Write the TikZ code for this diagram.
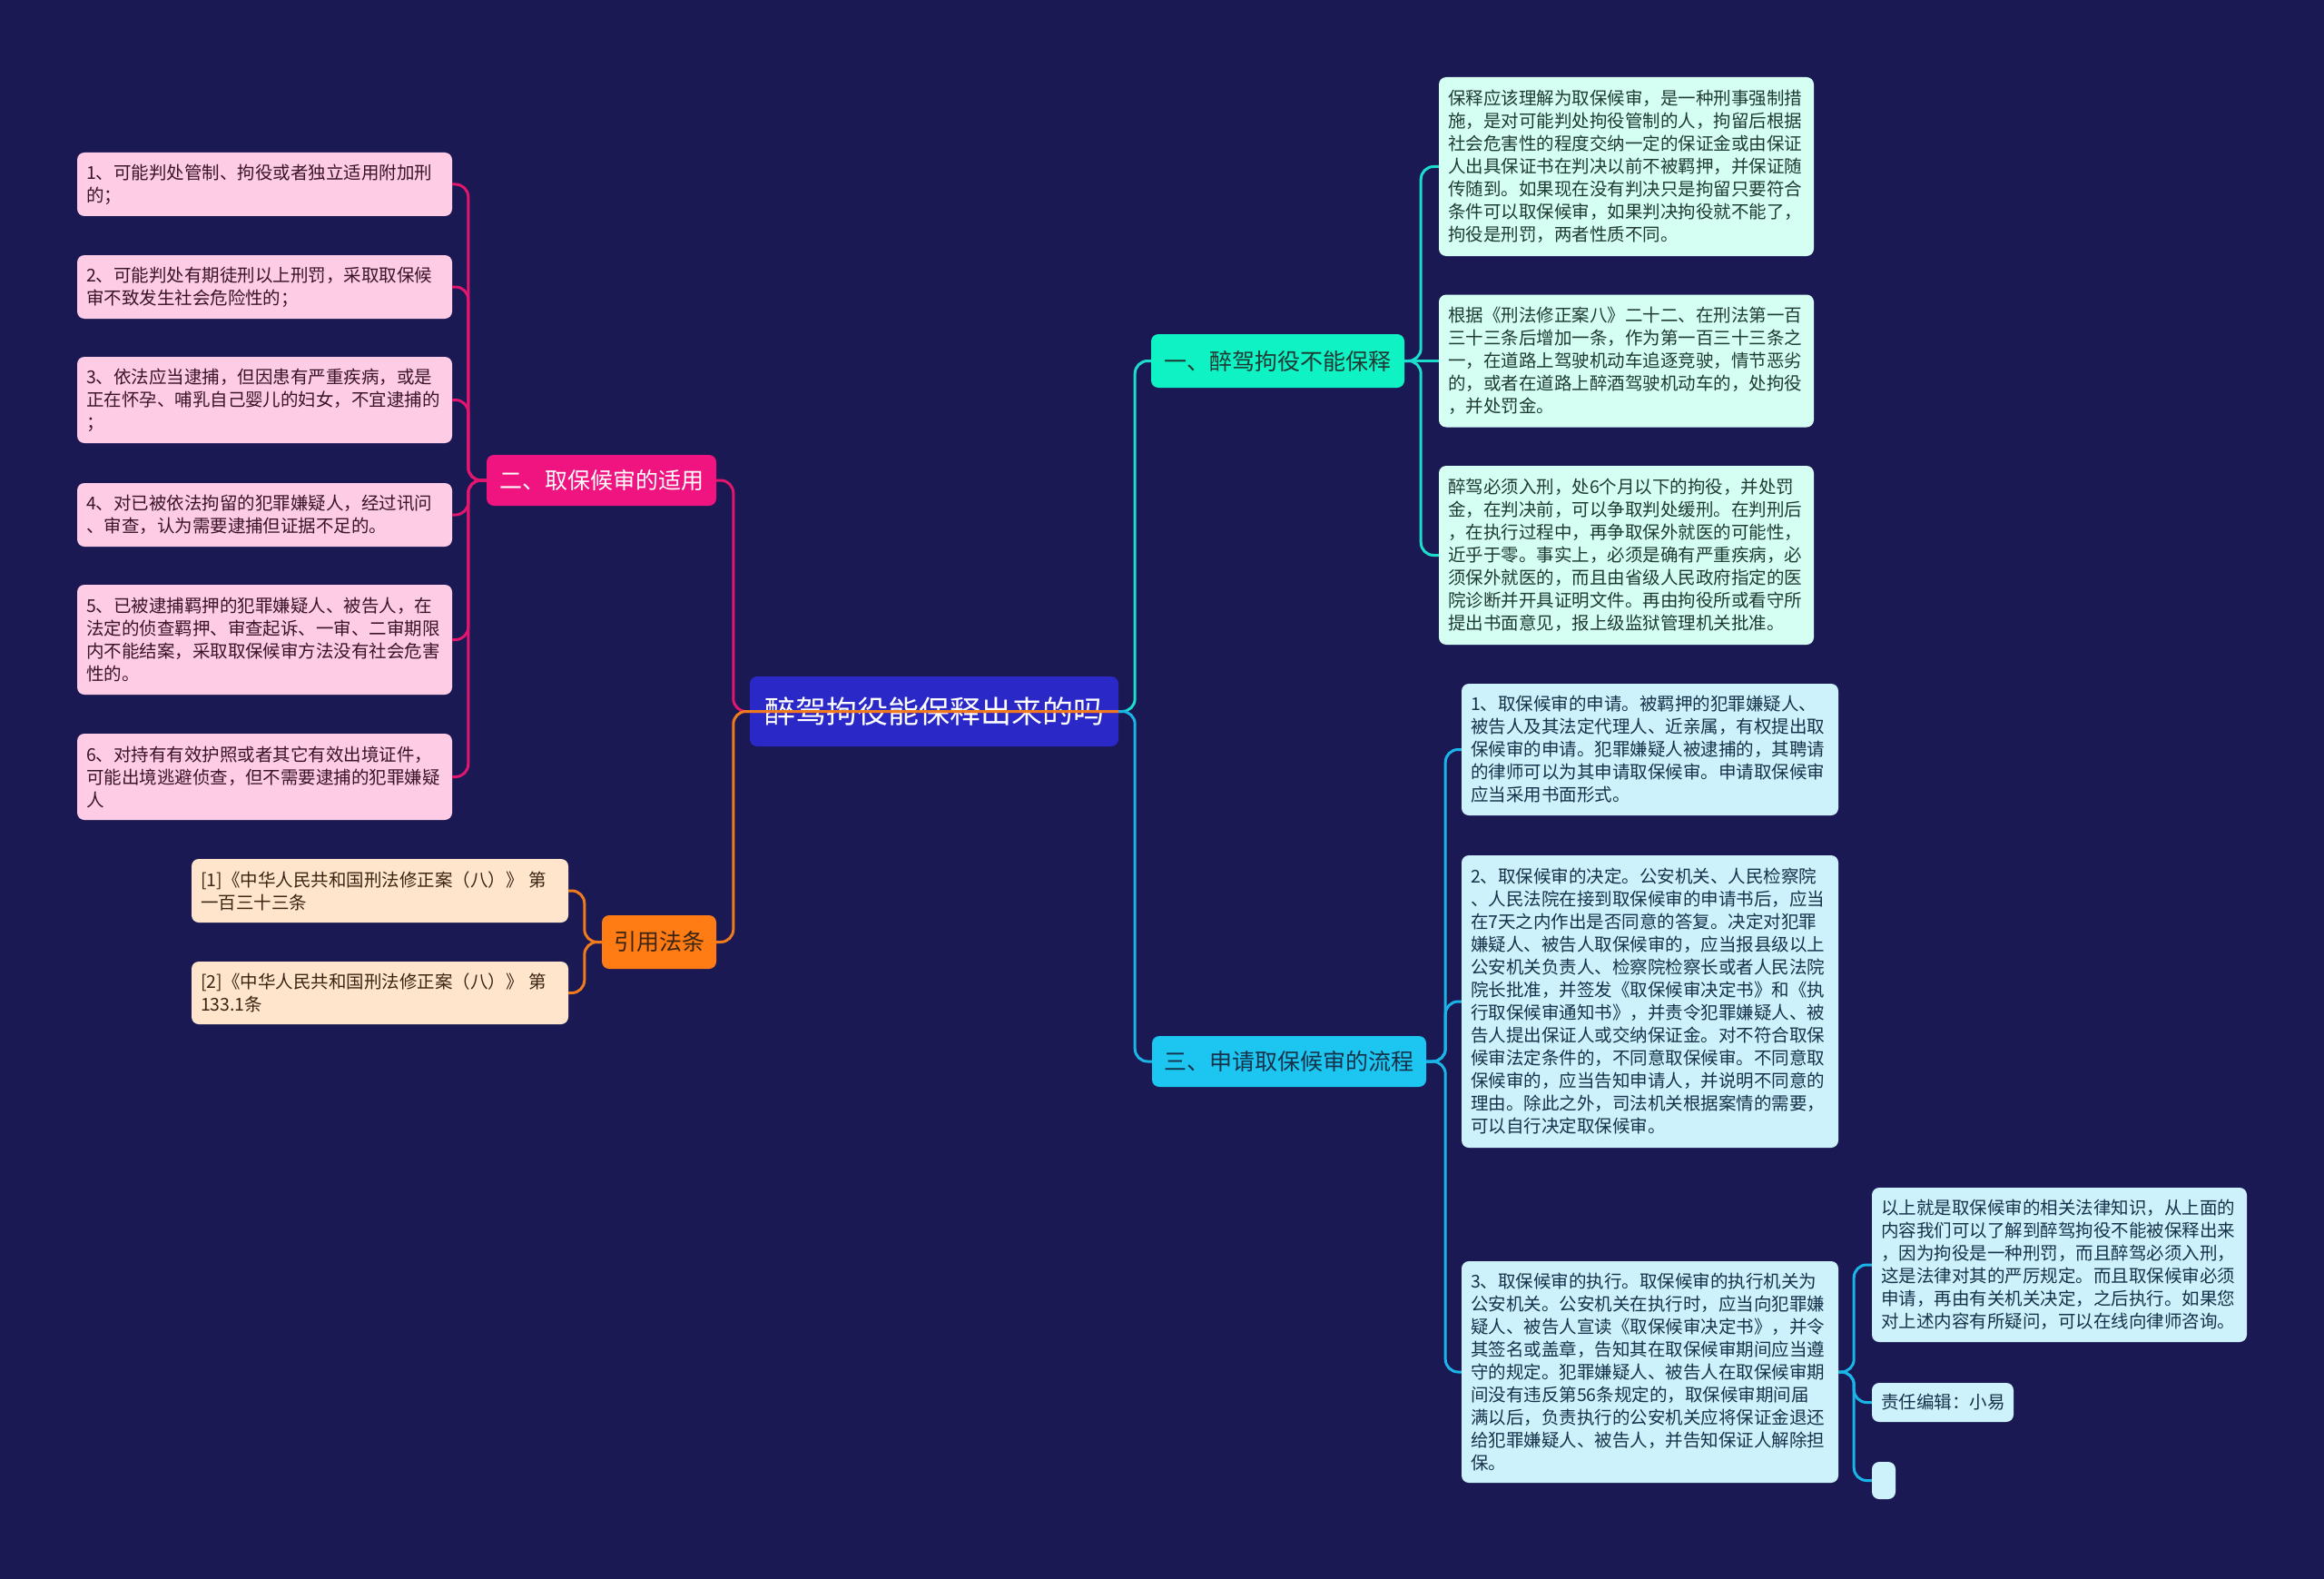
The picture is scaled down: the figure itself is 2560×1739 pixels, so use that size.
\documentclass[tikz,border=0pt]{standalone}
\usepackage{fontspec}
\usetikzlibrary{calc}
\setmainfont{Noto Sans CJK SC}
\definecolor{bg}{HTML}{1B1953}
\definecolor{rootfill}{HTML}{2B28C8}
\definecolor{aquafill}{HTML}{0FF2C4}
\definecolor{aqualeaf}{HTML}{D6FFF3}
\definecolor{aqualine}{HTML}{1CDCCB}
\definecolor{cyanfill}{HTML}{1CC6F0}
\definecolor{cyanleaf}{HTML}{CEF2FC}
\definecolor{cyanline}{HTML}{1AB4E6}
\definecolor{pinkfill}{HTML}{EF1480}
\definecolor{pinkleaf}{HTML}{FFCCE6}
\definecolor{pinkline}{HTML}{E0166F}
\definecolor{orgfill}{HTML}{FF7B14}
\definecolor{orgleaf}{HTML}{FFE5CC}
\definecolor{orgline}{HTML}{F07A1E}
\definecolor{aquatext}{HTML}{1E3A34}
\definecolor{cyantext}{HTML}{16324A}
\definecolor{pinktext}{HTML}{3A1428}
\definecolor{orgtext}{HTML}{3A2412}
\newcommand{\leaffont}{\fontsize{19.5}{25}\selectfont}
\newcommand{\branchfont}{\fontsize{25}{30}\selectfont}
\newcommand{\rootfont}{\fontsize{34}{40}\selectfont}
\tikzset{
  box/.style={rounded corners=8pt, inner ysep=0pt, inner xsep=10pt},
  leaf/.style={box, align=left, font=\leaffont},
  branchbox/.style={box, align=center, font=\branchfont, inner xsep=0pt},
  conn/.style={line width=3pt, rounded corners=14pt},
}
\begin{document}
\begin{tikzpicture}[x=1pt,y=-1pt]
\fill[bg] (0,0) rectangle (2560,1739);
\useasboundingbox (0,0) rectangle (2560,1739);

% root
\node[box, fill=rootfill, text=white, font=\rootfont, minimum width=406, minimum height=77, inner xsep=0pt] (R) at (1029,783.5) {醉驾拘役能保释出来的吗};

% branches
\node[branchbox, fill=aquafill, text=aquatext, minimum width=279, minimum height=59] (B1) at (1407.5,397.5) {一、醉驾拘役不能保释};
\node[branchbox, fill=cyanfill, text=cyantext, minimum width=302, minimum height=56] (B3) at (1420,1169) {三、申请取保候审的流程};
\node[branchbox, fill=pinkfill, text=white, minimum width=253, minimum height=56] (B2) at (662.5,529) {二、取保候审的适用};
\node[branchbox, fill=orgfill, text=orgtext, minimum width=126, minimum height=59] (BC) at (726,1037.5) {引用法条};

% branch 1 leaves
\node[leaf, fill=aqualeaf, text=aquatext, text width=393, minimum height=197] (L1a) at (1791.5,183.5) {保释应该理解为取保候审，是一种刑事强制措\\施，是对可能判处拘役管制的人，拘留后根据\\社会危害性的程度交纳一定的保证金或由保证\\人出具保证书在判决以前不被羁押，并保证随\\传随到。如果现在没有判决只是拘留只要符合\\条件可以取保候审，如果判决拘役就不能了，\\拘役是刑罚，两者性质不同。};
\node[leaf, fill=aqualeaf, text=aquatext, text width=393, minimum height=146] (L1b) at (1791.5,397.5) {根据《刑法修正案八》二十二、在刑法第一百\\三十三条后增加一条，作为第一百三十三条之\\一，在道路上驾驶机动车追逐竞驶，情节恶劣\\的，或者在道路上醉酒驾驶机动车的，处拘役\\，并处罚金。};
\node[leaf, fill=aqualeaf, text=aquatext, text width=393, minimum height=197] (L1c) at (1791.5,611.5) {醉驾必须入刑，处6个月以下的拘役，并处罚\\金，在判决前，可以争取判处缓刑。在判刑后\\，在执行过程中，再争取保外就医的可能性，\\近乎于零。事实上，必须是确有严重疾病，必\\须保外就医的，而且由省级人民政府指定的医\\院诊断并开具证明文件。再由拘役所或看守所\\提出书面意见，报上级监狱管理机关批准。};

% branch 3 leaves
\node[leaf, fill=cyanleaf, text=cyantext, text width=395, minimum height=145] (L3a) at (1817.5,825.5) {1、取保候审的申请。被羁押的犯罪嫌疑人、\\被告人及其法定代理人、近亲属，有权提出取\\保候审的申请。犯罪嫌疑人被逮捕的，其聘请\\的律师可以为其申请取保候审。申请取保候审\\应当采用书面形式。};
\node[leaf, fill=cyanleaf, text=cyantext, text width=395, minimum height=322] (L3b) at (1817.5,1103) {2、取保候审的决定。公安机关、人民检察院\\、人民法院在接到取保候审的申请书后，应当\\在7天之内作出是否同意的答复。决定对犯罪\\嫌疑人、被告人取保候审的，应当报县级以上\\公安机关负责人、检察院检察长或者人民法院\\院长批准，并签发《取保候审决定书》和《执\\行取保候审通知书》，并责令犯罪嫌疑人、被\\告人提出保证人或交纳保证金。对不符合取保\\候审法定条件的，不同意取保候审。不同意取\\保候审的，应当告知申请人，并说明不同意的\\理由。除此之外，司法机关根据案情的需要，\\可以自行决定取保候审。};
\node[leaf, fill=cyanleaf, text=cyantext, text width=395, minimum height=244] (L3c) at (1817.5,1511) {3、取保候审的执行。取保候审的执行机关为\\公安机关。公安机关在执行时，应当向犯罪嫌\\疑人、被告人宣读《取保候审决定书》，并令\\其签名或盖章，告知其在取保候审期间应当遵\\守的规定。犯罪嫌疑人、被告人在取保候审期\\间没有违反第56条规定的，取保候审期间届\\满以后，负责执行的公安机关应将保证金退还\\给犯罪嫌疑人、被告人，并告知保证人解除担\\保。};

% sub leaves of L3c
\node[leaf, fill=cyanleaf, text=cyantext, text width=393, minimum height=170] (L4a) at (2268.5,1393) {以上就是取保候审的相关法律知识，从上面的\\内容我们可以了解到醉驾拘役不能被保释出来\\，因为拘役是一种刑罚，而且醉驾必须入刑，\\这是法律对其的严厉规定。而且取保候审必须\\申请，再由有关机关决定，之后执行。如果您\\对上述内容有所疑问，可以在线向律师咨询。};
\node[leaf, fill=cyanleaf, text=cyantext, text width=136, minimum height=43] (L4b) at (2140,1544.5) {责任编辑：小易};
\node[box, fill=cyanleaf, minimum width=26, minimum height=41, inner xsep=0pt] (L4c) at (2075,1630.5) {};

% branch 2 leaves
\node[leaf, fill=pinkleaf, text=pinktext, text width=393, minimum height=70] (P1) at (291.5,203) {1、可能判处管制、拘役或者独立适用附加刑\\的；};
\node[leaf, fill=pinkleaf, text=pinktext, text width=393, minimum height=70] (P2) at (291.5,316) {2、可能判处有期徒刑以上刑罚，采取取保候\\审不致发生社会危险性的；};
\node[leaf, fill=pinkleaf, text=pinktext, text width=393, minimum height=95] (P3) at (291.5,440.5) {3、依法应当逮捕，但因患有严重疾病，或是\\正在怀孕、哺乳自己婴儿的妇女，不宜逮捕的\\；};
\node[leaf, fill=pinkleaf, text=pinktext, text width=393, minimum height=70] (P4) at (291.5,567) {4、对已被依法拘留的犯罪嫌疑人，经过讯问\\、审查，认为需要逮捕但证据不足的。};
\node[leaf, fill=pinkleaf, text=pinktext, text width=393, minimum height=121] (P5) at (291.5,704.5) {5、已被逮捕羁押的犯罪嫌疑人、被告人，在\\法定的侦查羁押、审查起诉、一审、二审期限\\内不能结案，采取取保候审方法没有社会危害\\性的。};
\node[leaf, fill=pinkleaf, text=pinktext, text width=393, minimum height=95] (P6) at (291.5,855.5) {6、对持有有效护照或者其它有效出境证件，\\可能出境逃避侦查，但不需要逮捕的犯罪嫌疑\\人};

% citation leaves
\node[leaf, fill=orgleaf, text=orgtext, text width=395, minimum height=70] (C1) at (418.5,981) {[1]《中华人民共和国刑法修正案（八）》 第\\一百三十三条};
\node[leaf, fill=orgleaf, text=orgtext, text width=395, minimum height=69] (C2) at (418.5,1093.5) {[2]《中华人民共和国刑法修正案（八）》 第\\133.1条};

% connectors from root
\draw[conn, aqualine] (R.east) -- ++(18,0) |- (B1.west);
\draw[conn, cyanline] (R.east) -- ++(18,0) |- (B3.west);
\draw[conn, pinkline] (R.east) -- ($(R.west)+(-18,0)$) |- (B2.east);
\draw[conn, orgline] (R.east) -- ($(R.west)+(-18,0)$) |- (BC.east);

% branch 1
\draw[conn, aqualine] (B1.east) -- ++(18,0) |- (L1a.west);
\draw[conn, aqualine] (B1.east) -- (L1b.west);
\draw[conn, aqualine] (B1.east) -- ++(18,0) |- (L1c.west);
% branch 3
\foreach \n in {L3a,L3b,L3c}{
  \draw[conn, cyanline] (B3.east) -- ++(21,0) |- (\n.west);
}
\foreach \n in {L4a,L4b,L4c}{
  \draw[conn, cyanline] (L3c.east) -- ++(17,0) |- (\n.west);
}
% branch 2
\foreach \n in {P1,P2,P3,P4,P5,P6}{
  \draw[conn, pinkline] (B2.west) -- ++(-20,0) |- (\n.east);
}
% citations
\foreach \n in {C1,C2}{
  \draw[conn, orgline] (BC.west) -- ++(-19,0) |- (\n.east);
}
\end{tikzpicture}
\end{document}
